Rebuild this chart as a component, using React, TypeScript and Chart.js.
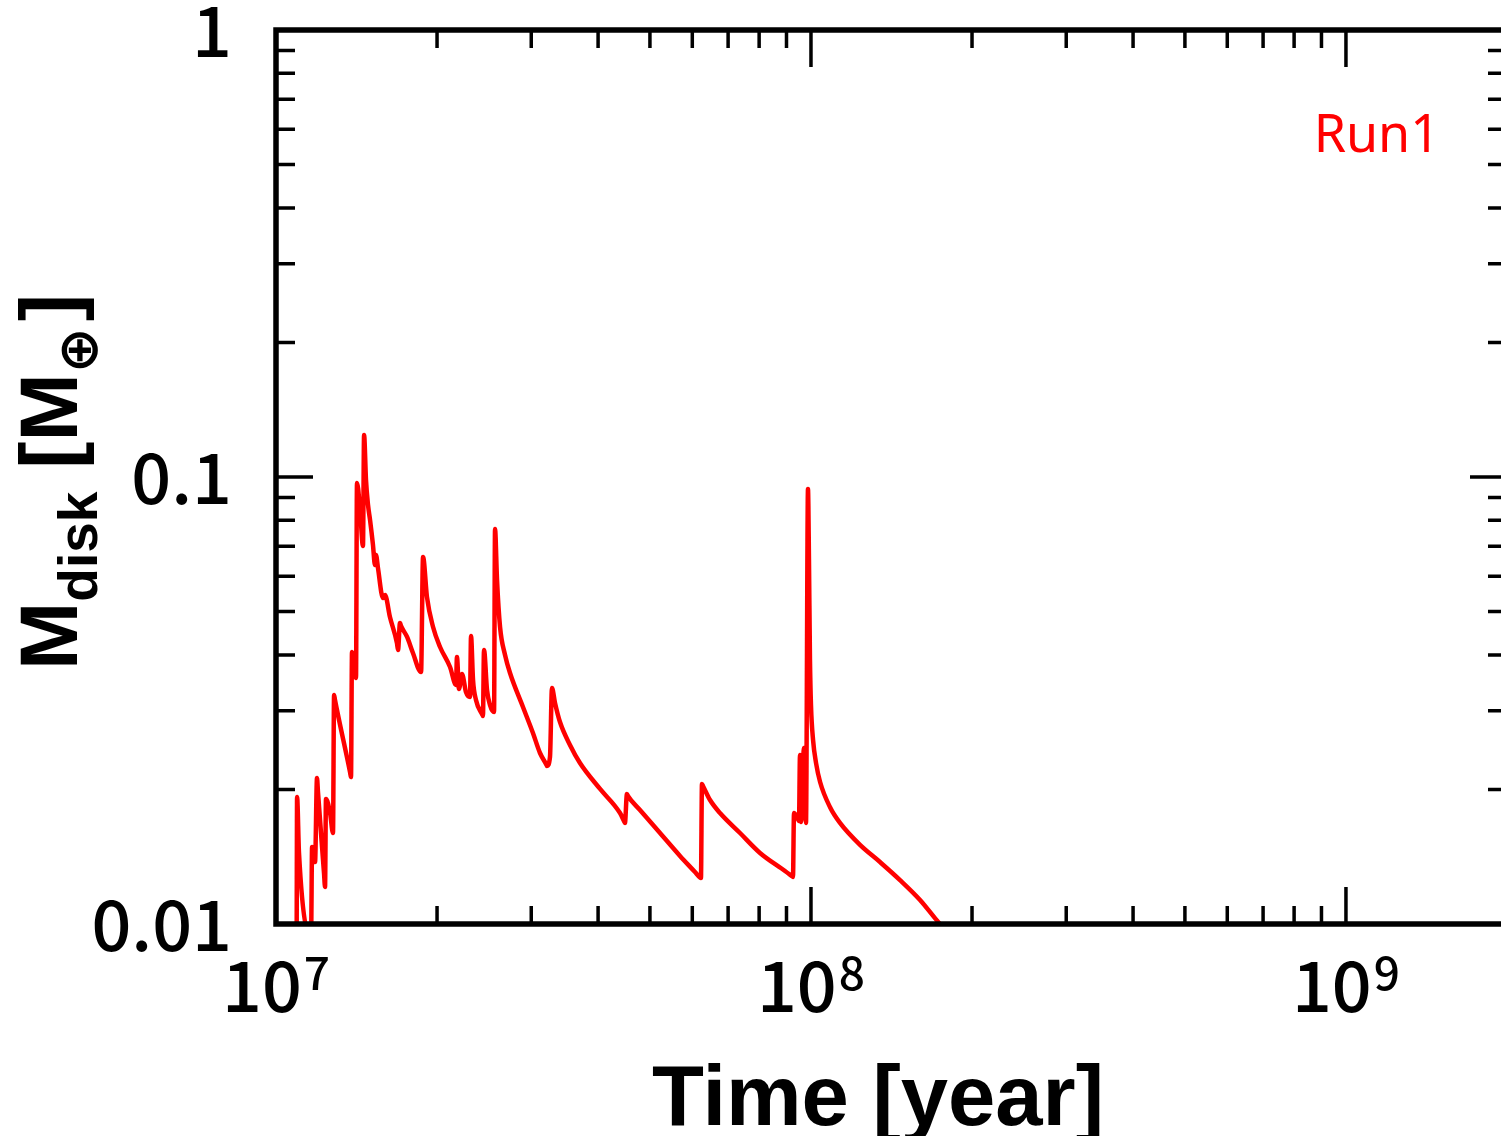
import React, { useEffect, useRef } from 'react';
import { Chart, registerables } from 'chart.js';

Chart.register(...registerables);

// ---- data (time in years, disk mass in Earth masses) ----
const TIME_YEARS = [
  1.093e7, 1.095e7, 1.104e7, 1.163e7, 1.168e7, 1.183e7, 1.193e7, 1.198e7, 1.2295e7, 1.235e7,
  1.240e7, 1.262e7, 1.278e7, 1.284e7, 1.289e7, 1.3752e7, 1.381e7, 1.387e7, 1.411e7, 1.417e7,
  1.436e7, 1.454e7, 1.461e7, 1.473e7, 1.486e7, 1.499e7, 1.518e7, 1.531e7, 1.538e7, 1.551e7,
  1.585e7, 1.599e7, 1.633e7, 1.683e7, 1.691e7, 1.705e7, 1.7127e7, 1.758e7, 1.803e7, 1.867e7,
  1.883e7, 1.915e7, 1.966e7, 2.026e7, 2.115e7, 2.170e7, 2.179e7, 2.198e7, 2.227e7, 2.265e7,
  2.305e7, 2.315e7, 2.335e7, 2.365e7, 2.4269e7, 2.437e7, 2.448e7, 2.480e7, 2.512e7, 2.556e7,
  2.567e7, 2.589e7, 2.623e7, 2.680e7, 2.738e7, 2.895e7, 3.022e7, 3.115e7, 3.1964e7, 3.210e7,
  3.252e7, 3.280e7, 3.323e7, 3.395e7, 3.544e7, 3.700e7, 4.034e7, 4.396e7, 4.4707e7, 4.490e7,
  4.529e7, 4.5484e7, 4.790e7, 5.222e7, 5.691e7, 6.070e7, 6.2016e7, 6.228e7, 6.255e7, 6.2823e7,
  6.476e7, 6.760e7, 7.368e7, 8.030e7, 8.942e7, 9.215e7, 9.255e7, 9.295e7, 9.415e7, 9.497e7,
  9.538e7, 9.579e7, 9.703e7, 9.787e7, 9.872e7, 9.914e7, 9.957e7, 1.000e8, 1.009e8, 1.022e8,
  1.040e8, 1.085e8, 1.133e8, 1.235e8, 1.346e8, 1.467e8, 1.599e8, 1.705e8, 1.780e8,
];
const DISK_MASS = [
  0.0094, 0.01924, 0.01442, 0.00945, 0.01487, 0.01376, 0.02121, 0.01974, 0.01300, 0.01210,
  0.01904, 0.01771, 0.01598, 0.03253, 0.03171, 0.02188, 0.02132, 0.04060, 0.03551, 0.09696,
  0.08438, 0.07010, 0.1241, 0.09847, 0.08658, 0.08013, 0.07047, 0.06355, 0.06692, 0.06258,
  0.05361, 0.05445, 0.04862, 0.04252, 0.04102, 0.04714, 0.04642, 0.04387, 0.04039, 0.03662,
  0.06624, 0.05389, 0.04619, 0.04166, 0.03758, 0.03425, 0.03957, 0.03355, 0.03625, 0.03304,
  0.03220, 0.04409, 0.03515, 0.03171, 0.02949, 0.02919, 0.04102, 0.03338, 0.03090, 0.02981,
  0.07649, 0.05885, 0.04619, 0.03998, 0.03643, 0.03058, 0.02675, 0.02413, 0.02281, 0.02257,
  0.02364, 0.03373, 0.03122, 0.02830, 0.02515, 0.02292, 0.02005, 0.01771, 0.01700, 0.01683,
  0.01954, 0.01934, 0.01799, 0.01598, 0.01420, 0.01307, 0.01271, 0.01268, 0.02057, 0.02036,
  0.01894, 0.01771, 0.01598, 0.01442, 0.01314, 0.01279, 0.01274, 0.01771, 0.01735, 0.01700,
  0.02388, 0.01691, 0.02476, 0.01683, 0.09401, 0.06522, 0.03896, 0.03090, 0.02580, 0.02292,
  0.02078, 0.01827, 0.01683, 0.01503, 0.01376, 0.01254, 0.01132, 0.01031, 0.00970,
];

const SERIES_LABEL = 'Run1';
const X_TITLE = 'Time [year]';
const Y_TITLE_MAIN = 'M';
const Y_TITLE_SUB = 'disk';
const Y_TITLE_UNIT_OPEN = ' [M';
const Y_TITLE_UNIT_SUB = '⊕';
const Y_TITLE_UNIT_CLOSE = ']';

const X_MIN = 1e7;
const X_MAX = 2e9;
const Y_MIN = 0.01;
const Y_MAX = 1;

const X_MAJOR_BASE = '10';
const X_MAJOR_EXPONENTS = [7, 8, 9];
const X_MINOR_TICKS = [2e7, 3e7, 4e7, 5e7, 6e7, 7e7, 8e7, 9e7, 2e8, 3e8, 4e8, 5e8, 6e8, 7e8, 8e8, 9e8, 2e9];
const Y_MAJOR_TICKS = [0.01, 0.1, 1];
const Y_TICK_LABELS = ['0.01', '0.1', '1'];
const Y_MINOR_TICKS = [0.02, 0.03, 0.04, 0.05, 0.06, 0.07, 0.08, 0.09, 0.2, 0.3, 0.4, 0.5, 0.6, 0.7, 0.8, 0.9];

const CANVAS_W = 1530;
const CANVAS_H = 1136;

const TICK_FONT = "500 70px 'Noto Sans CJK JP', 'Noto Sans', sans-serif";
const SUP_FONT = "500 46px 'Noto Sans CJK JP', 'Noto Sans', sans-serif";
const TITLE_FONT = "bold 85px 'Liberation Sans', Arial, sans-serif";
const YTITLE_FONT = "bold 82px 'Liberation Sans', Arial, 'DejaVu Sans', sans-serif";
const YSUB_FONT = "bold 55px 'Liberation Sans', Arial, 'DejaVu Sans', sans-serif";

const decorPlugin = {
  id: 'decor',
  afterDatasetsDraw(chart: any) {
    const { ctx, chartArea: a } = chart;
    const xs = chart.scales.x;
    const ys = chart.scales.y;
    ctx.save();
    ctx.strokeStyle = '#000';
    ctx.lineCap = 'butt';

    // ticks (inward, mirrored on all sides)
    ctx.lineWidth = 3.5;
    const vline = (px: number, len: number) => {
      ctx.beginPath();
      ctx.moveTo(px, a.bottom);
      ctx.lineTo(px, a.bottom - len);
      ctx.moveTo(px, a.top);
      ctx.lineTo(px, a.top + len);
      ctx.stroke();
    };
    const hline = (py: number, len: number) => {
      ctx.beginPath();
      ctx.moveTo(a.left, py);
      ctx.lineTo(a.left + len, py);
      ctx.moveTo(a.right, py);
      ctx.lineTo(a.right - len, py);
      ctx.stroke();
    };
    X_MAJOR_EXPONENTS.forEach((e) => vline(xs.getPixelForValue(Math.pow(10, e)), 37));
    X_MINOR_TICKS.forEach((v) => vline(xs.getPixelForValue(v), 18));
    Y_MAJOR_TICKS.forEach((v) => hline(ys.getPixelForValue(v), 37));
    Y_MINOR_TICKS.forEach((v) => hline(ys.getPixelForValue(v), 19));

    // frame
    ctx.lineWidth = 5.5;
    ctx.strokeRect(a.left, a.top, a.right - a.left, a.bottom - a.top);

    ctx.fillStyle = '#000';
    // y tick labels
    ctx.font = TICK_FONT;
    ctx.textAlign = 'right';
    ctx.textBaseline = 'alphabetic';
    Y_MAJOR_TICKS.forEach((v, i) => {
      ctx.fillText(Y_TICK_LABELS[i], a.left - 44, ys.getPixelForValue(v) + 27);
    });

    // x tick labels with superscript exponent
    ctx.textAlign = 'left';
    X_MAJOR_EXPONENTS.forEach((e) => {
      const px = xs.getPixelForValue(Math.pow(10, e));
      ctx.font = TICK_FONT;
      const wb = ctx.measureText(X_MAJOR_BASE).width;
      ctx.font = SUP_FONT;
      const we = ctx.measureText(String(e)).width;
      const gap = 2;
      const start = px - (wb + gap + we) / 2;
      ctx.font = TICK_FONT;
      ctx.fillText(X_MAJOR_BASE, start, a.bottom + 88);
      ctx.font = SUP_FONT;
      ctx.fillText(String(e), start + wb + gap, a.bottom + 66);
    });

    // x title
    ctx.font = TITLE_FONT;
    ctx.textAlign = 'center';
    ctx.fillText(X_TITLE, 878, a.bottom + 201);

    // y title (rotated)
    ctx.save();
    ctx.translate(77, 670);
    ctx.rotate(-Math.PI / 2);
    ctx.textAlign = 'left';
    let cx = 0;
    ctx.font = YTITLE_FONT;
    ctx.fillText(Y_TITLE_MAIN, cx, 0);
    cx += ctx.measureText(Y_TITLE_MAIN).width;
    ctx.font = YSUB_FONT;
    ctx.fillText(Y_TITLE_SUB, cx, 20);
    cx += ctx.measureText(Y_TITLE_SUB).width;
    ctx.font = YTITLE_FONT;
    ctx.fillText(Y_TITLE_UNIT_OPEN, cx, 0);
    cx += ctx.measureText(Y_TITLE_UNIT_OPEN).width;
    ctx.font = YSUB_FONT;
    ctx.fillText(Y_TITLE_UNIT_SUB, cx, 20);
    cx += ctx.measureText(Y_TITLE_UNIT_SUB).width + 6;
    ctx.font = YTITLE_FONT;
    ctx.fillText(Y_TITLE_UNIT_CLOSE, cx, 0);
    ctx.restore();

    // series label
    ctx.fillStyle = '#ff0000';
    ctx.font = "52px 'Noto Sans', 'Open Sans', sans-serif";
    ctx.textAlign = 'right';
    ctx.fillText(SERIES_LABEL, 1440, 152);

    ctx.restore();
  },
};

export default function App() {
  const ref = useRef<HTMLCanvasElement | null>(null);
  useEffect(() => {
    if (!ref.current) return;
    const data = TIME_YEARS.map((t, i) => ({ x: t, y: DISK_MASS[i] }));
    const chart = new Chart(ref.current, {
      type: 'line',
      data: {
        datasets: [
          {
            label: SERIES_LABEL,
            data,
            borderColor: '#ff0000',
            backgroundColor: '#ff0000',
            borderWidth: 4.5,
            pointRadius: 0,
            cubicInterpolationMode: 'monotone',
            borderJoinStyle: 'round',
            fill: false,
          },
        ],
      },
      options: {
        animation: false,
        responsive: false,
        maintainAspectRatio: false,
        devicePixelRatio: 1,
        layout: { padding: { left: 276, right: CANVAS_W - 1507, top: 30, bottom: CANVAS_H - 924 } },
        plugins: { legend: { display: false }, tooltip: { enabled: false } },
        scales: {
          x: { type: 'logarithmic', min: X_MIN, max: X_MAX, display: false },
          y: { type: 'logarithmic', min: Y_MIN, max: Y_MAX, display: false },
        },
      },
      plugins: [decorPlugin],
    });
    return () => chart.destroy();
  }, []);

  return (
    <div
      style={{
        position: 'fixed',
        left: 0,
        top: 0,
        width: 1501,
        height: 1136,
        overflow: 'hidden',
        background: '#fff',
      }}
    >
      <canvas ref={ref} width={CANVAS_W} height={CANVAS_H} style={{ width: CANVAS_W, height: CANVAS_H, display: 'block' }} />
    </div>
  );
}
